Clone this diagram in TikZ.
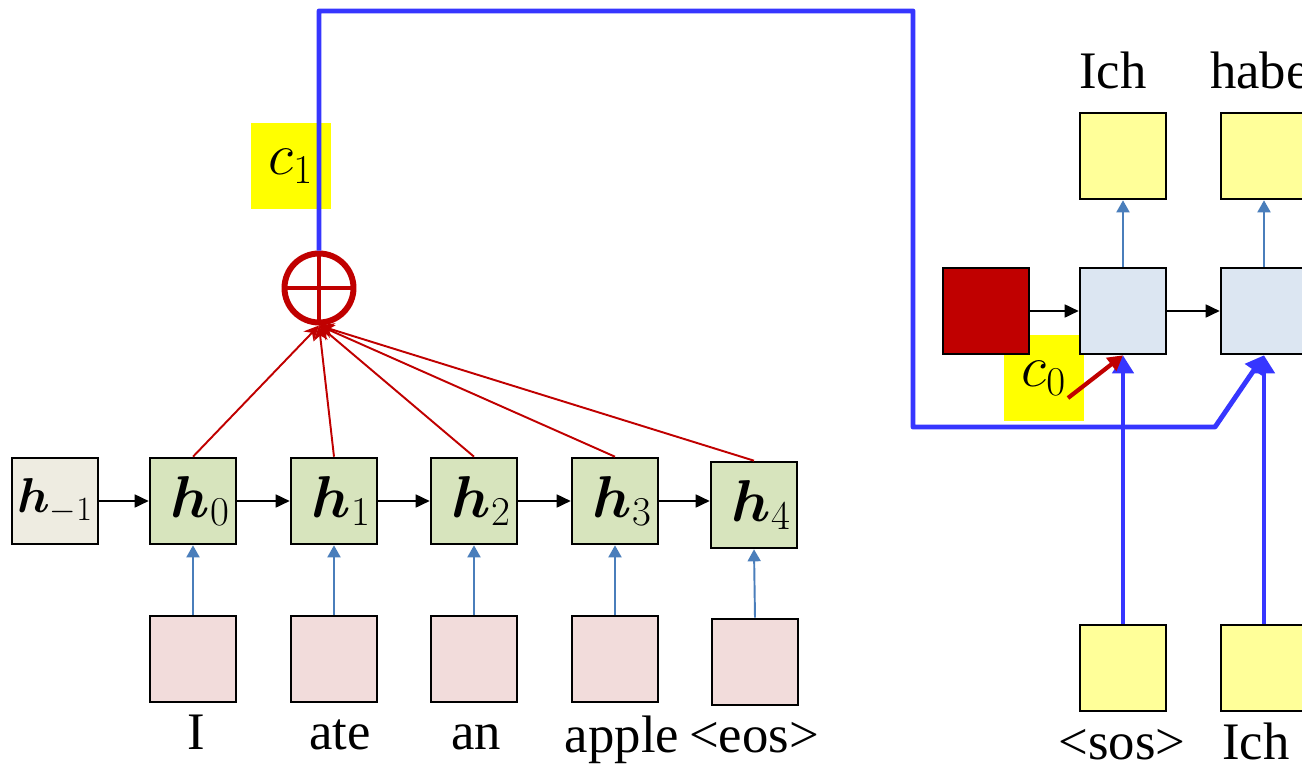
\documentclass[tikz,border=0pt]{standalone}
\usepackage{amsmath,bm,graphicx}
\usepackage{fontspec}
\setmainfont{Liberation Serif}
\usepackage{tikz}
\usetikzlibrary{arrows.meta,positioning}
\definecolor{encgreen}{HTML}{D7E4BD}
\definecolor{initgray}{HTML}{EEECE1}
\definecolor{wordpink}{HTML}{F2DCDB}
\definecolor{declight}{HTML}{DCE6F2}
\definecolor{outyellow}{HTML}{FFFF99}
\definecolor{ctxyellow}{HTML}{FFFF00}
\definecolor{attred}{HTML}{C00000}
\definecolor{feedblue}{HTML}{3636FF}
\definecolor{thinblue}{HTML}{4A7EBB}
\newcommand{\bigmath}[1]{\scalebox{1.35}{$#1$}}

\begin{document}
\begin{tikzpicture}[x=0.02cm, y=-0.02cm,
    cell/.style={rectangle, draw, line width=1.5pt, minimum width=1.72cm, minimum height=1.72cm, inner sep=0pt, font=\fontsize{24}{28}\selectfont},
    hid/.style={cell, fill=encgreen},
    word/.style={font=\fontsize{30}{36}\selectfont, anchor=base, inner sep=0pt},
    ctx/.style={rectangle, fill=ctxyellow, minimum width=1.6cm, minimum height=1.72cm, inner sep=0pt, font=\fontsize{24}{28}\selectfont},
    rec/.style={-{Triangle[length=0.28cm, width=0.26cm]}, line width=1pt},
    feed/.style={-{Triangle[length=0.24cm, width=0.26cm]}, line width=1.1pt, thinblue},
    att/.style={-{Stealth[length=0.3cm, width=0.28cm]}, line width=1.1pt, attred},
    route/.style={line width=2.8pt, feedblue, line join=round}]
    \useasboundingbox (0,0) rectangle (1302,764);

    % encoder
    \node[cell, fill=initgray] (hm1) at (55,501) {\scalebox{1.12}{$\bm{h}_{-1}$}};
    \node[hid] (h0) at (193,501) {\hspace*{0.3cm}\bigmath{\bm{h}_{0}}};
    \node[hid] (h1) at (334,501) {\hspace*{0.3cm}\bigmath{\bm{h}_{1}}};
    \node[hid] (h2) at (474,501) {\hspace*{0.3cm}\bigmath{\bm{h}_{2}}};
    \node[hid] (h3) at (615,501) {\hspace*{0.3cm}\bigmath{\bm{h}_{3}}};
    \node[hid] (h4) at (754,505) {\hspace*{0.3cm}\bigmath{\bm{h}_{4}}};
    \draw[rec] (hm1.east) -- (h0.west);
    \draw[rec] (h0.east) -- (h1.west);
    \draw[rec] (h1.east) -- (h2.west);
    \draw[rec] (h2.east) -- (h3.west);
    \draw[rec] (h3.east) -- (h3.east -| h4.west);

    % input words
    \node[cell, fill=wordpink] (w0) at (193,659) {};
    \node[cell, fill=wordpink] (w1) at (334,659) {};
    \node[cell, fill=wordpink] (w2) at (474,659) {};
    \node[cell, fill=wordpink] (w3) at (615,659) {};
    \node[cell, fill=wordpink] (w4) at (755,662) {};
    \draw[feed] (w0.north) -- (h0.south);
    \draw[feed] (w1.north) -- (h1.south);
    \draw[feed] (w2.north) -- (h2.south);
    \draw[feed] (w3.north) -- (h3.south);
    \draw[feed] (w4.north) -- (h4.south);
    \node[word] (lblI) at (196,749) {I};
    \node[word] (lblAte) at (340,749) {ate};
    \node[word] (lblAn) at (476,749) {an};
    \node[word] (lblApple) at (622,752) {apple};
    \node[word] (lblEos) at (754,752) {<eos>};

    % attention sum
    \node[circle, draw=attred, line width=3.4pt, minimum size=1.38cm, inner sep=0pt] (plus) at (319,288) {};
    \draw[attred, line width=2.2pt] (plus.north) -- (plus.south);
    \draw[attred, line width=2.2pt] (plus.west) -- (plus.east);
    \draw[att] (h0.north) -- (plus.south);
    \draw[att] (h1.north) -- (plus.south);
    \draw[att] (h2.north) -- (plus.south);
    \draw[att] (h3.north) -- (plus.south);
    \draw[att] (h4.north) -- (plus.south);
    \node[ctx] (c1) at (291,166) {\bigmath{c_{1}}};

    % decoder
    \node[ctx] (c0) at (1044,378) {\raisebox{-0.2cm}{\bigmath{c_{0}}}};
    \node[cell, fill=attred] (init) at (986,311) {};
    \node[cell, fill=declight] (dec1) at (1123,311) {};
    \node[cell, fill=declight] (dec2) at (1264,311) {};
    \draw[rec] (init.east) -- (dec1.west);
    \draw[rec] (dec1.east) -- (dec2.west);
    \node[cell, fill=outyellow] (out1) at (1123,156) {};
    \node[cell, fill=outyellow] (out2) at (1264,156) {};
    \draw[feed] (dec1.north) -- (out1.south);
    \draw[feed] (dec2.north) -- (out2.south);
    \node[word] (lblIchOut) at (1113,88) {Ich};
    \node[word] (lblHaben) at (1273,88) {haben};
    \node[cell, fill=outyellow] (in1) at (1123,668) {};
    \node[cell, fill=outyellow] (in2) at (1264,668) {};
    \node[word] (lblSos) at (1122,759) {<sos>};
    \node[word] (lblIchIn) at (1256,759) {Ich};

    % context routes
    \coordinate (topR) at (913,11);
    \coordinate (lowL) at (913,427);
    \coordinate (lowR) at (1215,427);
    \draw[route, -{Triangle[length=0.36cm, width=0.42cm]}] (plus.north) |- (topR) -- (lowL) -- (lowR) -- (dec2.south);
    \draw[route, -{Triangle[length=0.36cm, width=0.42cm]}] (in1.north) -- (dec1.south);
    \draw[route, -{Triangle[length=0.36cm, width=0.42cm]}] (in2.north) -- (dec2.south);
    \coordinate (c0tail) at (1068,398);
    \draw[attred, line width=2.4pt, -{Triangle[length=0.3cm, width=0.32cm]}] (c0tail) -- (dec1.south);
\end{tikzpicture}
\end{document}
